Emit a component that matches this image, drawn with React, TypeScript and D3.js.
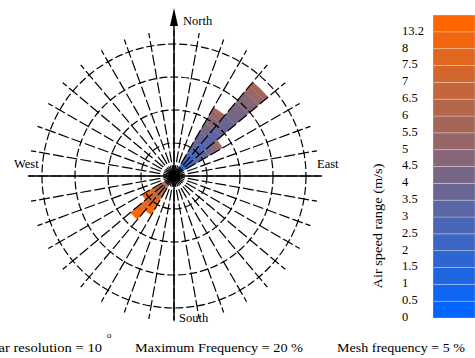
import * as d3 from "d3";

// speed bin labels (lower bound of each colour band), m/s
const speedLabels = ["0", "0.5", "1", "1.5", "2", "2.5", "3", "3.5", "4", "4.5", "5", "5.5", "6", "6.5", "7", "7.5", "8", "13.2"];

// sector start angles (deg, clockwise from north), 10 deg wide
const sectorStarts = [30, 40, 50, 210, 220, 230];

// frequency (%) contributed by each speed bin, one array per sector
const freq30 = [0.1, 0.3, 0.5, 0.8, 1.1, 1.4, 1.7, 1.8, 1.6, 1.3, 0.9, 0.5, 0, 0, 0, 0, 0, 0];
const freq40 = [0.2, 0.4, 0.8, 1.2, 1.8, 2.2, 2.6, 2.8, 2.6, 2.0, 1.2, 0.8, 0, 0, 0, 0, 0, 0];
const freq50 = [0.1, 0.3, 0.5, 0.8, 1.0, 1.1, 1.2, 1.1, 0.9, 0.7, 0.5, 0.3, 0, 0, 0, 0, 0, 0];
const freq210 = [0, 0, 0, 0.05, 0.1, 0.15, 0.2, 0.3, 0.35, 0.4, 0.5, 0.55, 0.6, 0.7, 0.75, 0.75, 0.75, 0.65];
const freq220 = [0, 0, 0, 0.05, 0.1, 0.15, 0.25, 0.3, 0.4, 0.5, 0.6, 0.7, 0.8, 0.9, 0.95, 1.0, 1.0, 0.9];
const freq230 = [0, 0, 0, 0.05, 0.05, 0.1, 0.15, 0.2, 0.25, 0.3, 0.4, 0.45, 0.5, 0.55, 0.65, 0.7, 0.65, 0.6];
const sectorFreqs = [freq30, freq40, freq50, freq210, freq220, freq230];

// grid settings
const maxFreq = 20;
const meshFreq = 5;
const resolution = 10;

const W = 475;
const H = 358;
const cx = 174;
const cy = 176;
const R = 132;

const font = "'Liberation Serif', serif";

export default function App() {
  const r = d3.scaleLinear().domain([0, maxFreq]).range([0, R]);
  const colorAt = d3.interpolateRgb("rgb(0,102,255)", "rgb(255,102,0)");
  const color = (i: number) => colorAt(i / (speedLabels.length - 1));
  const rad = (deg: number) => (deg * Math.PI) / 180;

  const arc = d3.arc<any>();

  // stacked segments for every sector
  const segments: { d: string; fill: string }[] = [];
  sectorStarts.forEach((start, s) => {
    let acc = 0;
    sectorFreqs[s].forEach((f, i) => {
      if (f <= 0) return;
      const d = arc({
        innerRadius: r(acc),
        outerRadius: r(acc + f),
        startAngle: rad(start),
        endAngle: rad(start + resolution),
      }) as string;
      segments.push({ d, fill: color(i) });
      acc += f;
    });
  });

  const rings = d3.range(meshFreq, maxFreq + 0.01, meshFreq);
  const spokes = d3.range(0, 360, resolution);
  const spokeLen = R * 1.1;

  // colour bar
  const barY = d3.scaleLinear().domain([0, speedLabels.length]).range([318, 15]);

  return (
    <svg width={W} height={H} style={{ position: "absolute", left: 0, top: 0, background: "#fff" }}>
      <g transform={`translate(${cx},${cy})`}>
        {segments.map((s, i) => (
          <path key={i} d={s.d} fill={s.fill} stroke={s.fill} strokeWidth={0.3} />
        ))}
        {rings.map((v) => (
          <circle key={v} r={r(v)} fill="none" stroke="#000" strokeWidth={1.2} strokeDasharray="8,3" />
        ))}
        {spokes.map((a) => (
          <line
            key={a}
            x1={0}
            y1={0}
            x2={spokeLen * Math.sin(rad(a))}
            y2={-spokeLen * Math.cos(rad(a))}
            stroke="#000"
            strokeWidth={1.2}
            strokeDasharray="11,3"
          />
        ))}
        {/* main axes */}
        <line x1={-146} y1={0} x2={148} y2={0} stroke="#000" strokeWidth={1.5} />
        <line x1={0} y1={-152} x2={0} y2={144} stroke="#000" strokeWidth={1.5} />
        <path d="M0,-168 L-4,-150 L4,-150 Z" fill="#000" />
        <circle r={6} fill="#000" />
      </g>

      <g fontFamily={font} fontSize={12.5} fill="#000">
        <text x={183} y={25}>North</text>
        <text x={179} y={322}>South</text>
        <text x={14} y={168}>West</text>
        <text x={317} y={168}>East</text>
      </g>

      {/* colour bar */}
      {speedLabels.map((lab, i) => (
        <rect
          key={lab}
          x={433}
          y={barY(i + 1)}
          width={W - 433}
          height={barY(i) - barY(i + 1)}
          fill={color(i)}
          stroke="rgba(255,255,255,0.35)"
          strokeWidth={0.8}
        />
      ))}
      <g fontFamily={font} fontSize={12.5} fill="#000">
        {speedLabels.map((lab, i) => (
          <text key={lab} x={402} y={barY(i)} dominantBaseline="middle">
            {lab}
          </text>
        ))}
        <text transform="translate(382,226) rotate(-90)" textAnchor="middle" fontSize={13} textLength={125} lengthAdjust="spacingAndGlyphs">
          Air speed range (m/s)
        </text>
      </g>

      {/* footer, first line is cut at the left edge like the source */}
      <g fontFamily={font} fontSize={13} fill="#000">
        <text x={-21} y={352} textLength={123} lengthAdjust="spacingAndGlyphs">
          Polar resolution = {resolution}
        </text>
        <text x={107} y={338} fontSize={9}>o</text>
        <text x={135} y={352} textLength={168} lengthAdjust="spacingAndGlyphs">
          Maximum Frequency = {maxFreq} %
        </text>
        <text x={337} y={352} textLength={128} lengthAdjust="spacingAndGlyphs">
          Mesh frequency = {meshFreq} %
        </text>
      </g>
    </svg>
  );
}
